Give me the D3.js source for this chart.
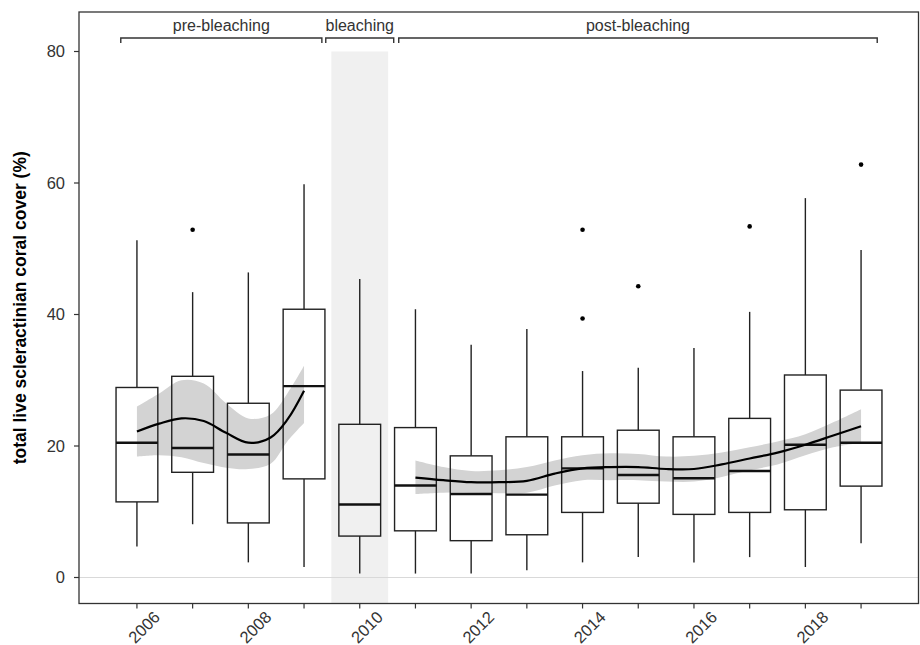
<!DOCTYPE html>
<html lang="en">
<head>
<meta charset="UTF-8">
<title>Coral cover</title>
<script src="https://d3js.org/d3.v7.min.js"></script>
<style>
  body { margin: 0; background: #fff; }
  svg text { font-family: "Liberation Sans", Arial, sans-serif; }
  .tick-label { font-size: 16.5px; fill: #333; }
  .period-label { font-size: 16px; fill: #333; }
  .y-title { font-size: 17.5px; font-weight: bold; fill: #000; }
</style>
</head>
<body>
<div id="chart"></div>
<script>
// box plot stats per year
const years = [2006, 2007, 2008, 2009, 2010, 2011, 2012, 2013, 2014, 2015, 2016, 2017, 2018, 2019];
const whiskerLow  = [4.7, 8.1, 2.3, 1.6, 0.6, 0.6, 0.6, 1.1, 2.3, 3.1, 2.3, 3.1, 1.6, 5.2];
const q1          = [11.5, 16.0, 8.3, 15.0, 6.3, 7.1, 5.6, 6.5, 9.9, 11.3, 9.6, 9.9, 10.3, 13.9];
const medians     = [20.5, 19.7, 18.7, 29.1, 11.1, 14.0, 12.7, 12.6, 16.6, 15.6, 15.1, 16.2, 20.2, 20.5];
const q3          = [28.9, 30.6, 26.5, 40.8, 23.3, 22.8, 18.5, 21.4, 21.4, 22.4, 21.4, 24.2, 30.8, 28.5];
const whiskerHigh = [51.3, 43.4, 46.4, 59.8, 45.4, 40.8, 35.4, 37.8, 31.4, 31.9, 34.9, 40.4, 57.7, 49.8];

const outlierYears  = [2007, 2014, 2014, 2015, 2017, 2019];
const outlierValues = [52.9, 52.9, 39.4, 44.3, 53.4, 62.8];

// loess fits with confidence bands
const preX   = [2006, 2006.4, 2006.8, 2007.2, 2007.6, 2008, 2008.4, 2008.7, 2009];
const preFit = [22.2, 23.4, 24.2, 23.8, 22.0, 20.5, 21.3, 24.0, 28.4];
const preHi  = [26.0, 28.0, 30.0, 29.5, 26.5, 24.2, 24.8, 28.0, 32.2];
const preLo  = [18.4, 18.6, 18.3, 17.4, 16.7, 16.5, 17.3, 20.7, 23.5];

const postX   = [2011, 2011.5, 2012, 2012.5, 2013, 2013.5, 2014, 2014.5, 2015, 2015.5, 2016, 2016.5, 2017, 2017.5, 2018, 2018.5, 2019];
const postFit = [15.2, 14.8, 14.5, 14.5, 14.7, 15.8, 16.6, 16.8, 16.8, 16.5, 16.5, 17.2, 18.1, 19.0, 20.2, 21.6, 23.0];
const postHi  = [17.8, 16.8, 16.2, 16.3, 16.8, 17.8, 18.6, 18.9, 18.8, 18.4, 18.5, 19.0, 19.8, 20.7, 21.8, 23.6, 25.6];
const postLo  = [12.7, 12.9, 12.9, 12.8, 12.9, 14.0, 14.8, 14.8, 14.8, 14.6, 14.6, 15.3, 16.3, 17.2, 18.6, 19.8, 20.5];

// period brackets
const periodNames = ["pre-bleaching", "bleaching", "post-bleaching"];
const periodStart = [2005.71, 2009.39, 2010.70];
const periodEnd   = [2009.32, 2010.61, 2019.29];

const yTicks = [0, 20, 40, 60, 80];
const xLabelYears = [2006, 2008, 2010, 2012, 2014, 2016, 2018];

const width = 920, height = 645;
const margin = { top: 12, right: 1, bottom: 41, left: 79 };

const svg = d3.select("#chart").append("svg")
    .attr("width", width)
    .attr("height", height);

const x = d3.scaleLinear()
    .domain([2004.96, 2020.04])
    .range([margin.left, width - margin.right]);

const y = d3.scaleLinear()
    .domain([0, 80])
    .range([577.5, 51.5]);

const panelBottom = height - margin.bottom - 0.5;
const boxHalf = 0.375;

// bleaching shading
svg.append("rect")
    .attr("x", x(2009.49))
    .attr("y", y(80))
    .attr("width", x(2010.51) - x(2009.49))
    .attr("height", panelBottom - y(80))
    .attr("fill", "#f0f0f0");

// zero line
svg.append("line")
    .attr("x1", margin.left).attr("x2", width - margin.right)
    .attr("y1", y(0)).attr("y2", y(0))
    .attr("stroke", "#d9d9d9")
    .attr("stroke-width", 1.2);

// confidence bands
const area = d3.area()
    .x(d => x(d.x))
    .y0(d => y(d.lo))
    .y1(d => y(d.hi))
    .curve(d3.curveCatmullRom);

const line = d3.line()
    .x(d => x(d.x))
    .y(d => y(d.fit))
    .curve(d3.curveCatmullRom);

const preData = preX.map((v, i) => ({ x: v, fit: preFit[i], lo: preLo[i], hi: preHi[i] }));
const postData = postX.map((v, i) => ({ x: v, fit: postFit[i], lo: postLo[i], hi: postHi[i] }));

[preData, postData].forEach(d => {
    svg.append("path")
        .datum(d)
        .attr("d", area)
        .attr("fill", "#d3d3d3");
});

// boxes
const boxes = years.map((yr, i) => ({
    yr, lo: whiskerLow[i], q1: q1[i], med: medians[i], q3: q3[i], hi: whiskerHigh[i]
}));

const g = svg.append("g")
    .attr("stroke", "#222")
    .attr("fill", "none");

boxes.forEach(b => {
    g.append("line")
        .attr("x1", x(b.yr)).attr("x2", x(b.yr))
        .attr("y1", y(b.hi)).attr("y2", y(b.q3))
        .attr("stroke-width", 1.4);
    g.append("line")
        .attr("x1", x(b.yr)).attr("x2", x(b.yr))
        .attr("y1", y(b.q1)).attr("y2", y(b.lo))
        .attr("stroke-width", 1.4);
    g.append("rect")
        .attr("x", x(b.yr - boxHalf))
        .attr("y", y(b.q3))
        .attr("width", x(b.yr + boxHalf) - x(b.yr - boxHalf))
        .attr("height", y(b.q1) - y(b.q3))
        .attr("stroke-width", 1.4);
    g.append("line")
        .attr("x1", x(b.yr - boxHalf)).attr("x2", x(b.yr + boxHalf))
        .attr("y1", y(b.med)).attr("y2", y(b.med))
        .attr("stroke", "#111")
        .attr("stroke-width", 2.4);
});

// outliers
svg.selectAll(".outlier")
    .data(outlierYears.map((yr, i) => ({ yr, v: outlierValues[i] })))
    .enter().append("circle")
    .attr("class", "outlier")
    .attr("cx", d => x(d.yr))
    .attr("cy", d => y(d.v))
    .attr("r", 2.3)
    .attr("fill", "#000");

// fitted lines
[preData, postData].forEach(d => {
    svg.append("path")
        .datum(d)
        .attr("d", line)
        .attr("fill", "none")
        .attr("stroke", "#000")
        .attr("stroke-width", 2.2);
});

// panel border
svg.append("rect")
    .attr("x", margin.left)
    .attr("y", margin.top)
    .attr("width", width - margin.right - margin.left - 0.5)
    .attr("height", panelBottom - margin.top)
    .attr("fill", "none")
    .attr("stroke", "#333")
    .attr("stroke-width", 1.3);

// period brackets
const bracketY = 38;
periodNames.forEach((name, i) => {
    const x0 = x(periodStart[i]), x1 = x(periodEnd[i]);
    svg.append("path")
        .attr("d", `M${x0},${bracketY + 5} L${x0},${bracketY} L${x1},${bracketY} L${x1},${bracketY + 5}`)
        .attr("fill", "none")
        .attr("stroke", "#333")
        .attr("stroke-width", 1.4);
    svg.append("text")
        .attr("class", "period-label")
        .attr("x", (x0 + x1) / 2)
        .attr("y", 31)
        .attr("text-anchor", "middle")
        .text(name);
});

// y axis
yTicks.forEach(t => {
    svg.append("line")
        .attr("x1", margin.left - 5).attr("x2", margin.left)
        .attr("y1", y(t)).attr("y2", y(t))
        .attr("stroke", "#333")
        .attr("stroke-width", 1.2);
    svg.append("text")
        .attr("class", "tick-label")
        .attr("x", margin.left - 14)
        .attr("y", y(t))
        .attr("dy", "0.36em")
        .attr("text-anchor", "end")
        .text(t);
});

// x axis
years.forEach(yr => {
    svg.append("line")
        .attr("x1", x(yr)).attr("x2", x(yr))
        .attr("y1", panelBottom).attr("y2", panelBottom + 5)
        .attr("stroke", "#333")
        .attr("stroke-width", 1.2);
});
xLabelYears.forEach(yr => {
    svg.append("text")
        .attr("class", "tick-label")
        .attr("transform", `translate(${x(yr) + 7},${627}) rotate(-45)`)
        .attr("text-anchor", "middle")
        .attr("dy", "0.36em")
        .text(yr);
});

svg.append("text")
    .attr("class", "y-title")
    .attr("transform", `translate(26,${(margin.top + panelBottom) / 2}) rotate(-90)`)
    .attr("text-anchor", "middle")
    .text("total live scleractinian coral cover (%)");
</script>
</body>
</html>
